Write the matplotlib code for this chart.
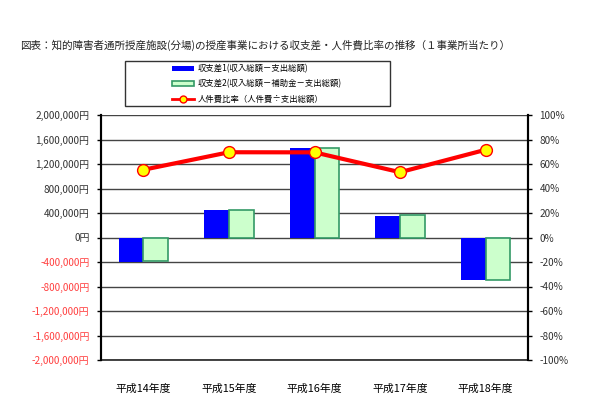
import numpy as np
import matplotlib.pyplot as plt
from matplotlib.patches import Rectangle
from matplotlib.lines import Line2D
from matplotlib.patches import Patch

plt.rcParams['font.family'] = ['Noto Sans CJK JP', 'DejaVu Sans']

# データ
years = ['平成14年度', '平成15年度', '平成16年度', '平成17年度', '平成18年度']
sashu1 = [-392000, 457000, 1458000, 359000, -686000]   # 収支差1
sashu2 = [-390000, 453000, 1463000, 370000, -690000]   # 収支差2
jinkenhi = [0.553, 0.696, 0.695, 0.533, 0.716]        # 人件費比率
yticks_left = [-2000000, -1600000, -1200000, -800000, -400000, 0,
               400000, 800000, 1200000, 1600000, 2000000]
yticks_right = [-1.0, -0.8, -0.6, -0.4, -0.2, 0.0, 0.2, 0.4, 0.6, 0.8, 1.0]

W, H = 603, 418
fig = plt.figure(figsize=(W / 100, H / 100), dpi=100)
ax = fig.add_axes([100.7 / W, 1 - 360 / H, (528.3 - 100.7) / W, (360 - 115) / H])

x = np.arange(len(years))
bw = 0.287
b1 = ax.bar(x - bw / 2, sashu1, bw, color='#0000FF', edgecolor='none', zorder=3)
b2 = ax.bar(x + bw / 2, sashu2, bw, color='#CCFFCC', edgecolor='#339966',
            linewidth=1.2, zorder=3)

ax.set_xlim(-0.5, len(years) - 0.5)
ax.set_ylim(-2000000, 2000000)
ax.set_yticks(yticks_left)
ax.set_yticklabels(['{:,}円'.format(v) for v in yticks_left], fontsize=7.2)
for lab, v in zip(ax.get_yticklabels(), yticks_left):
    lab.set_color('#FF4040' if v < 0 else '#333333')
for v in yticks_left:
    ax.axhline(v, color='#444444', lw=1, zorder=1)
ax.set_xticks(x)
ax.set_xticklabels(years, fontsize=7.8)
ax.tick_params(axis='x', length=0, pad=17)
ax.tick_params(axis='y', length=3, width=1, pad=5)

for s in ['left', 'right']:
    ax.spines[s].set_linewidth(1.5)
    ax.spines[s].set_color('black')
ax.spines['bottom'].set_linewidth(1.2)
ax.spines['bottom'].set_color('#222222')
ax.spines['top'].set_visible(False)

ax2 = ax.twinx()
ln, = ax2.plot(x, jinkenhi, color='#FF0000', lw=3, marker='o', markersize=8.5,
               markerfacecolor='#FFFF00', markeredgecolor='#FF0000',
               markeredgewidth=1, zorder=5)
ax2.set_ylim(-1, 1)
ax2.set_yticks(yticks_right)
ax2.set_yticklabels(['{:.0f}%'.format(v * 100) for v in yticks_right], fontsize=7.2,
                    color='#333333')
ax2.tick_params(axis='y', length=3, width=1, pad=5)
for s in ['left', 'right']:
    ax2.spines[s].set_linewidth(1.5)
    ax2.spines[s].set_color('black')
ax2.spines['bottom'].set_visible(False)
ax2.spines['top'].set_visible(False)

fig.text(265 / W, 1 - 45 / H,
         '図表：知的障害者通所授産施設(分場)の授産事業における収支差・人件費比率の推移（１事業所当たり）',
         ha='center', va='center', fontsize=7.6, color='#222222')

# 凡例
fig.patches.append(Rectangle((125 / W, 1 - 106 / H), 265 / W, 45 / H,
                             transform=fig.transFigure, fill=False,
                             edgecolor='#333333', lw=1))
handles = [Patch(facecolor='#0000FF', edgecolor='none'),
           Patch(facecolor='#CCFFCC', edgecolor='#339966', linewidth=1.2),
           Line2D([], [], color='#FF0000', lw=2, marker='o', markersize=5,
                  markerfacecolor='#FFFF00', markeredgecolor='#FF0000')]
labels = ['収支差1(収入総額－支出総額)', '収支差2(収入総額－補助金－支出総額)',
          '人件費比率（人件費÷支出総額）']
fig.legend(handles, labels, loc='center', bbox_to_anchor=(257 / W, 1 - 84 / H),
           frameon=False, fontsize=6, handlelength=2.6, handleheight=0.6,
           labelspacing=0.7, handletextpad=0.4, borderpad=0)

fig.savefig('out.png', dpi=100)
